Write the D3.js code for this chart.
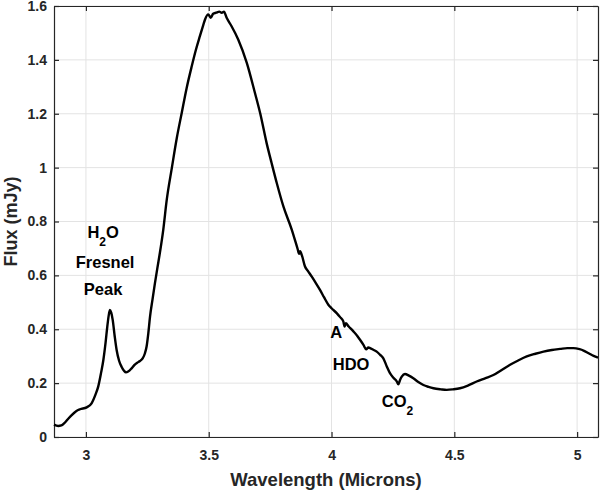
<!DOCTYPE html>
<html>
<head>
<meta charset="utf-8">
<script src="https://cdn.jsdelivr.net/npm/d3@7"></script>
<style>
  body { margin: 0; background: #fff; }
  svg { display: block; font-family: "Liberation Sans", Arial, Helvetica, sans-serif; font-weight: bold; }
</style>
</head>
<body>
<svg width="601" height="491"></svg>
<script>
const width = 601;
const height = 491;

// spectrum (microns, mJy)
const wavelength = [
  2.870, 2.887, 2.900, 2.935, 2.960, 2.976, 3.003, 3.023, 3.040, 3.050,
  3.062, 3.071, 3.080, 3.087, 3.094, 3.098, 3.103, 3.109, 3.117, 3.125,
  3.135, 3.145, 3.155, 3.163, 3.172, 3.186, 3.198, 3.209, 3.220, 3.231,
  3.240, 3.247, 3.254, 3.261, 3.271, 3.281, 3.291, 3.301, 3.315, 3.329,
  3.350, 3.370, 3.390, 3.410, 3.431, 3.447, 3.464, 3.478, 3.485, 3.498,
  3.508, 3.518, 3.530, 3.543, 3.553, 3.562, 3.573, 3.593, 3.620, 3.655,
  3.688, 3.710, 3.736, 3.756, 3.777, 3.804, 3.838, 3.862, 3.868, 3.872,
  3.880, 3.892, 3.905, 3.919, 3.935, 3.953, 3.970, 3.987, 4.000, 4.021,
  4.035, 4.048, 4.053, 4.058, 4.070, 4.089, 4.105, 4.116, 4.130, 4.141,
  4.150, 4.157, 4.170, 4.184, 4.198, 4.211, 4.225, 4.238, 4.252, 4.266,
  4.272, 4.279, 4.286, 4.299, 4.315, 4.333, 4.355, 4.374, 4.395, 4.415,
  4.445, 4.469, 4.495, 4.523, 4.555, 4.591, 4.625, 4.659, 4.693, 4.727,
  4.760, 4.795, 4.830, 4.863, 4.897, 4.931, 4.960, 4.985, 5.010, 5.026,
  5.047, 5.067, 5.085
];
const flux = [
  0.046, 0.041, 0.043, 0.075, 0.096, 0.103, 0.110, 0.125, 0.160, 0.187,
  0.240, 0.286, 0.350, 0.410, 0.458, 0.472, 0.462, 0.435, 0.375, 0.323,
  0.283, 0.261, 0.246, 0.240, 0.243, 0.255, 0.268, 0.276, 0.282, 0.292,
  0.310, 0.336, 0.385, 0.447, 0.510, 0.571, 0.628, 0.683, 0.770, 0.880,
  1.000, 1.110, 1.203, 1.295, 1.377, 1.435, 1.488, 1.530, 1.550, 1.569,
  1.556, 1.571, 1.575, 1.579, 1.575, 1.579, 1.556, 1.525, 1.476, 1.389,
  1.278, 1.200, 1.090, 1.017, 0.943, 0.856, 0.770, 0.698, 0.680, 0.690,
  0.672, 0.633, 0.615, 0.596, 0.573, 0.546, 0.518, 0.491, 0.478, 0.460,
  0.445, 0.429, 0.410, 0.422, 0.410, 0.392, 0.375, 0.361, 0.342, 0.326,
  0.332, 0.330, 0.324, 0.317, 0.305, 0.292, 0.262, 0.237, 0.220, 0.206,
  0.196, 0.212, 0.224, 0.234, 0.228, 0.218, 0.203, 0.193, 0.186, 0.181,
  0.177, 0.175, 0.177, 0.181, 0.191, 0.206, 0.218, 0.230, 0.249, 0.268,
  0.284, 0.299, 0.309, 0.317, 0.323, 0.327, 0.330, 0.330, 0.326, 0.321,
  0.311, 0.301, 0.295
];

const xTicks = [3, 3.5, 4, 4.5, 5];
const yTicks = [0, 0.2, 0.4, 0.6, 0.8, 1, 1.2, 1.4, 1.6];

// annotations: [text, subscript, rest, x, y, anchor]
const labels = [
  ["H", "2", "O", 3.07, 0.740, "middle"],
  ["Fresnel", "", "", 3.078, 0.627, "middle"],
  ["Peak", "", "", 3.07, 0.527, "middle"],
  ["A", "", "", 3.995, 0.368, "start"],
  ["HDO", "", "", 4.005, 0.248, "start"],
  ["CO", "2", "", 4.205, 0.113, "start"]
];

const margin = {top: 6, right: 3, bottom: 54, left: 54};
const w = width - margin.left - margin.right;
const h = height - margin.top - margin.bottom;

const svg = d3.select('svg');
const g = svg.append('g').attr('transform', `translate(${margin.left},${margin.top})`);

const x = d3.scaleLinear().domain([2.87, 5.085]).range([0, w]);
const y = d3.scaleLinear().domain([0, 1.6]).range([h, 0]);

// grid
g.append('g').selectAll('line.vg')
  .data(xTicks)
  .enter().append('line')
  .attr('x1', d => x(d)).attr('x2', d => x(d))
  .attr('y1', 0).attr('y2', h)
  .style('stroke', '#e3e3e3').style('stroke-width', 1);
g.append('g').selectAll('line.hg')
  .data(yTicks)
  .enter().append('line')
  .attr('x1', 0).attr('x2', w)
  .attr('y1', d => y(d)).attr('y2', d => y(d))
  .style('stroke', '#e3e3e3').style('stroke-width', 1);

// axes, ticks pointing in like matlab
const axisColor = '#262626';
const xAxis = g.append('g').attr('transform', `translate(0,${h})`)
  .call(d3.axisBottom(x).tickValues(xTicks).tickFormat(d3.format('')).tickSizeInner(-5).tickSizeOuter(0).tickPadding(13));
const yAxis = g.append('g')
  .call(d3.axisLeft(y).tickValues(yTicks).tickFormat(d3.format('')).tickSizeInner(-5).tickSizeOuter(0).tickPadding(7));
const xTop = g.append('g')
  .call(d3.axisTop(x).tickValues(xTicks).tickFormat('').tickSizeInner(-5).tickSizeOuter(0));
const yRight = g.append('g').attr('transform', `translate(${w},0)`)
  .call(d3.axisRight(y).tickValues(yTicks).tickFormat('').tickSizeInner(-5).tickSizeOuter(0));

[xAxis, yAxis, xTop, yRight].forEach(a => {
  a.select('.domain').style('stroke', axisColor).style('stroke-width', 1.2);
  a.selectAll('.tick line').style('stroke', axisColor).style('stroke-width', 1.2);
  a.selectAll('text')
    .style('font-family', '"Liberation Sans", Arial, sans-serif')
    .style('font-weight', 'bold')
    .style('font-size', '14px')
    .style('fill', axisColor);
});

// spectrum
const pts = wavelength.map((d, i) => [d, flux[i]]);
const line = d3.line()
  .x(d => x(d[0]))
  .y(d => y(d[1]))
  .curve(d3.curveMonotoneX);

g.append('path')
  .datum(pts)
  .attr('d', line)
  .style('fill', 'none')
  .style('stroke', '#000')
  .style('stroke-width', 2.4)
  .style('stroke-linejoin', 'round');

// annotation text
labels.forEach(l => {
  const t = g.append('text')
    .attr('x', x(l[3]))
    .attr('y', y(l[4]))
    .attr('text-anchor', l[5])
    .style('font-size', '16.5px')
    .style('fill', '#000');
  t.append('tspan').text(l[0]);
  if (l[1]) {
    t.append('tspan').attr('dy', 8).style('font-size', '12px').text(l[1]);
    if (l[2]) t.append('tspan').attr('dy', -8).text(l[2]);
  }
});

// axis labels
svg.append('text')
  .attr('x', margin.left + w / 2)
  .attr('y', 486)
  .attr('text-anchor', 'middle')
  .style('font-size', '18.5px')
  .style('fill', axisColor)
  .text('Wavelength (Microns)');

svg.append('text')
  .attr('transform', `translate(17,${margin.top + h / 2}) rotate(-90)`)
  .attr('text-anchor', 'middle')
  .style('font-size', '18px')
  .style('fill', axisColor)
  .text('Flux (mJy)');
</script>
</body>
</html>
